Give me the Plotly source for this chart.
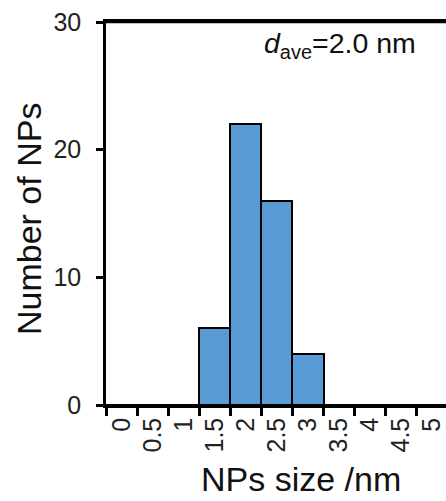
import plotly.graph_objects as go

sizes = ["0", "0.5", "1", "1.5", "2", "2.5", "3", "3.5", "4", "4.5", "5"]
counts = [0, 0, 0, 6, 22, 16, 4, 0, 0, 0, 0]
y_ticks = [0, 10, 20, 30]

FONT = "Liberation Sans, Arial, sans-serif"
W, H = 446, 501
ML, MR, MT, MB = 106, 0, 22, 96
PW, PH = W - ML - MR, H - MT - MB


def px_to_paper(x=None, y=None):
    out = []
    if x is not None:
        out.append((x - ML) / PW)
    if y is not None:
        out.append((H - MB - y) / PH)
    return out


fig = go.Figure()
fig.add_trace(go.Bar(
    x=sizes, y=counts,
    marker=dict(color="#5B9BD5", line=dict(color="black", width=2)),
))

ax, ay = px_to_paper(418, 45)
tx, ty = px_to_paper(301, 479)
yx, yy = px_to_paper(29, 219)

fig.update_layout(
    width=W, height=H,
    margin=dict(l=ML, r=MR, t=MT, b=MB),
    paper_bgcolor="white", plot_bgcolor="white",
    bargap=0, showlegend=False,
    font=dict(family=FONT, color="#222222"),
    shapes=[dict(type="line", xref="paper", yref="paper",
                 x0=0, x1=1, y0=1, y1=1,
                 line=dict(color="black", width=2.5))],
    annotations=[
        dict(text="<i>d</i><sub>ave</sub>=2.0 nm",
             xref="paper", yref="paper", x=ax, y=ay,
             xanchor="right", yanchor="middle", showarrow=False,
             font=dict(size=28.5, family=FONT, color="#111111")),
        dict(text="NPs size /nm",
             xref="paper", yref="paper", x=tx, y=ty,
             xanchor="center", yanchor="middle", showarrow=False,
             font=dict(size=34, family=FONT, color="#111111")),
        dict(text="Number of NPs", textangle=-90,
             xref="paper", yref="paper", x=yx, y=yy,
             xanchor="center", yanchor="middle", showarrow=False,
             font=dict(size=34, family=FONT, color="#111111")),
    ],
)

fig.update_xaxes(
    type="category", range=[-0.5, 10.44], automargin=False,
    showline=True, linecolor="black", linewidth=2.5, mirror=True,
    ticks="outside", tickson="boundaries", ticklen=8, tickwidth=2.5, tickcolor="black",
    tickangle=-90, tickfont=dict(size=25),
    showgrid=False, zeroline=False,
)
fig.update_yaxes(
    range=[0, 30], tickvals=y_ticks, automargin=False,
    showline=True, linecolor="black", linewidth=2.5, mirror=False,
    ticks="outside", ticklen=7, tickwidth=2.5, tickcolor="black",
    tickfont=dict(size=25), ticklabelstandoff=10,
    showgrid=False, zeroline=False,
)

fig.write_html(
    "out.html",
    config={"displayModeBar": False},
    post_script="document.body.style.margin='0';document.body.style.overflow='hidden';",
)
